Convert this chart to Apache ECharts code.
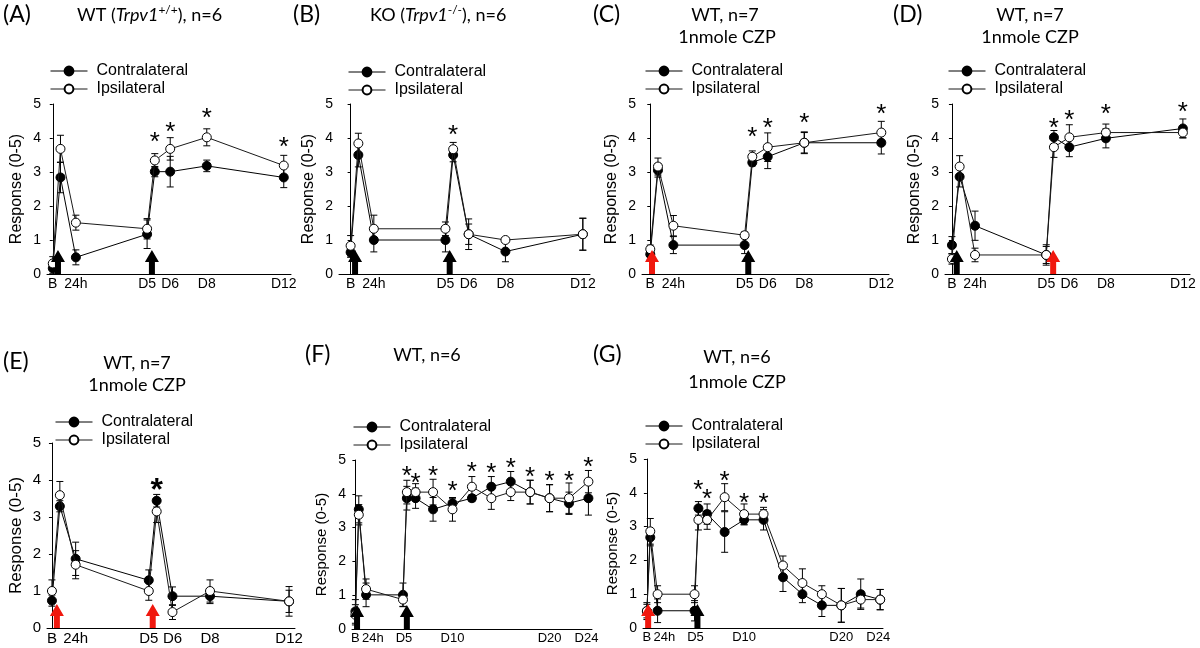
<!DOCTYPE html>
<html lang="en">
<head>
<meta charset="UTF-8">
<title>Response (0-5)</title>
<script src="https://cdn.jsdelivr.net/npm/echarts@6/dist/echarts.min.js"></script>
<style>
  html, body { margin: 0; padding: 0; background: #fff; }
  #chart { width: 1200px; height: 648px; }
</style>
</head>
<body>
<div id="chart"></div>
<script>
// measurement times (days) and x tick labels
const daysShort = [0, 0.4, 1.2, 4.9, 5.3, 6.1, 8, 12];
const daysLong = [0, 0.35, 1.1, 4.9, 5.3, 6.2, 8, 10, 12, 14, 16, 18, 20, 22, 24];
const tickShort = [0, 1.2, 4.9, 6.1, 8, 12];
const labelShort = ['B', '24h', 'D5', 'D6', 'D8', 'D12'];
const tickLong = [0, 1.8, 5, 10, 20, 23.8];
const labelLong = ['B', '24h', 'D5', 'D10', 'D20', 'D24'];

// (A) WT
const contraA = [0.17, 2.84, 0.49, 1.17, 3.01, 3.01, 3.18, 2.84];
const contraErrA = [0.15, 0.45, 0.22, 0.42, 0.15, 0.45, 0.17, 0.3];
const ipsiA = [0.31, 3.68, 1.51, 1.33, 3.34, 3.68, 4.02, 3.19];
const ipsiErrA = [0.2, 0.4, 0.22, 0.3, 0.2, 0.33, 0.25, 0.3];
const starsA = [[5.3, 4.04], [6.1, 4.33], [8, 4.73], [12, 3.89]];
const arrowsA = [0.27, 5.15];
const arrowKindA = ['cap', 'cap'];

// (B) KO
const contraB = [0.64, 3.5, 1.0, 1.0, 3.5, 1.17, 0.66, 1.17];
const contraErrB = [0.15, 0.35, 0.35, 0.35, 0.2, 0.3, 0.3, 0.47];
const ipsiB = [0.83, 3.84, 1.33, 1.33, 3.67, 1.17, 1.0, 1.17];
const ipsiErrB = [0.3, 0.3, 0.4, 0.2, 0.2, 0.45, 0.05, 0.47];
const starsB = [[5.3, 4.22]];
const arrowsB = [0.23, 5.12];
const arrowKindB = ['cap', 'cap'];

// (C) WT + CZP
const contraC = [0.58, 3.05, 0.85, 0.85, 3.28, 3.45, 3.86, 3.86];
const contraErrC = [0.15, 0.2, 0.25, 0.25, 0.1, 0.35, 0.3, 0.33];
const ipsiC = [0.73, 3.16, 1.42, 1.14, 3.45, 3.73, 3.86, 4.16];
const ipsiErrC = [0.12, 0.25, 0.3, 0.1, 0.17, 0.42, 0.32, 0.33];
const starsC = [[5.3, 4.16], [6.1, 4.45], [8, 4.58], [12, 4.85]];
const arrowsC = [0.09, 5.09];
const arrowKindC = ['czp', 'cap'];

// (D) WT + CZP
const contraD = [0.85, 2.86, 1.42, 0.56, 4.02, 3.73, 3.99, 4.28];
const contraErrD = [0.25, 0.3, 0.43, 0.3, 0.2, 0.28, 0.28, 0.28];
const ipsiD = [0.44, 3.16, 0.56, 0.56, 3.73, 4.02, 4.16, 4.16];
const ipsiErrD = [0.15, 0.32, 0.2, 0.25, 0.3, 0.37, 0.25, 0.15];
const starsD = [[5.3, 4.45], [6.1, 4.68], [8, 4.84], [12, 4.9]];
const arrowsD = [0.25, 5.26];
const arrowKindD = ['cap', 'czp'];

// (E) WT + CZP
const contraE = [0.74, 3.29, 1.87, 1.29, 3.44, 0.86, 0.86, 0.72];
const contraErrE = [0.15, 0.15, 0.45, 0.28, 0.17, 0.25, 0.2, 0.3];
const ipsiE = [1.0, 3.59, 1.71, 1.0, 3.15, 0.43, 1.0, 0.72];
const ipsiErrE = [0.3, 0.37, 0.38, 0.25, 0.3, 0.2, 0.3, 0.4];
const starsE = [[5.3, 3.9]];
const arrowsE = [0.25, 5.1];
const arrowKindE = ['czp', 'czp'];

// (F) WT, long follow-up
const contraF = [0.52, 3.54, 1.01, 1.01, 3.87, 3.87, 3.54, 3.72, 3.87, 4.21, 4.36, 4.05, 3.87, 3.72, 3.87];
const contraErrF = [0.35, 0.4, 0.35, 0.35, 0.35, 0.3, 0.35, 0.15, 0.1, 0.3, 0.3, 0.35, 0.4, 0.33, 0.5];
const ipsiF = [0.42, 3.38, 1.18, 0.87, 4.05, 4.05, 4.05, 3.54, 4.21, 3.87, 4.05, 4.05, 3.87, 3.87, 4.36];
const ipsiErrF = [0.3, 0.3, 0.3, 0.2, 0.35, 0.25, 0.38, 0.35, 0.3, 0.33, 0.25, 0.35, 0.4, 0.45, 0.33];
const starsF = [[5.3, 4.66], [6.2, 4.46], [8, 4.66], [10, 4.23], [12, 4.8], [14, 4.75], [16, 4.92], [18, 4.63], [20, 4.53], [22, 4.53], [24, 4.95]];
const arrowsF = [0.17, 5.3];
const arrowKindF = ['cap', 'cap'];

// (G) WT + CZP, long follow-up
const contraG = [0.5, 2.68, 0.51, 0.51, 3.54, 3.37, 2.84, 3.2, 3.2, 1.5, 1.0, 0.67, 0.67, 1.0, 0.84];
const contraErrG = [0.25, 0.25, 0.35, 0.3, 0.2, 0.3, 0.6, 0.15, 0.3, 0.42, 0.25, 0.33, 0.5, 0.45, 0.3];
const ipsiG = [0.5, 2.86, 1.0, 1.0, 3.2, 3.2, 3.87, 3.37, 3.37, 1.85, 1.33, 1.0, 0.67, 0.84, 0.84];
const ipsiErrG = [0.2, 0.38, 0.25, 0.25, 0.3, 0.28, 0.4, 0.3, 0.2, 0.28, 0.42, 0.25, 0.5, 0.25, 0.3];
const starsG = [[5.3, 4.22], [6.2, 3.95], [8, 4.49], [10, 3.85], [12, 3.85]];
const arrowsG = [0.13, 5.2];
const arrowKindG = ['czp', 'cap'];

const FONT = '"Liberation Sans", Arial, sans-serif';
const TFONT = 'Lato, "Open Sans", sans-serif';
const arrowColor = { cap: '#000000', czp: '#f0180e' };
const arrowPath = 'path://M7,0 L14,12 L10,12 L10,24 L4,24 L4,12 L0,12 Z';

const panels = [
  { grid: { left: 47, top: 104, width: 244, height: 170 }, min: -0.3, max: 12.375, days: daysShort, ticks: tickShort, labels: labelShort,
    contra: contraA, contraErr: contraErrA, ipsi: ipsiA, ipsiErr: ipsiErrA, stars: starsA, arrows: arrowsA, kinds: arrowKindA,
    legend: [50, 63], xfs: 14, yfs: 14, nfs: 16, gap: 22, star: 26 },
  { grid: { left: 339, top: 104, width: 251, height: 170 }, min: -0.6, max: 12.37, days: daysShort, ticks: tickShort, labels: labelShort,
    contra: contraB, contraErr: contraErrB, ipsi: ipsiB, ipsiErr: ipsiErrB, stars: starsB, arrows: arrowsB, kinds: arrowKindB,
    legend: [348, 64], xfs: 14, yfs: 14, nfs: 16, gap: 22, star: 26 },
  { grid: { left: 642, top: 104, width: 247, height: 170 }, min: -0.43, max: 12.4, days: daysShort, ticks: tickShort, labels: labelShort,
    contra: contraC, contraErr: contraErrC, ipsi: ipsiC, ipsiErr: ipsiErrC, stars: starsC, arrows: arrowsC, kinds: arrowKindC,
    legend: [645, 63], xfs: 14, yfs: 14, nfs: 16, gap: 22, star: 26 },
  { grid: { left: 945, top: 104, width: 245, height: 170 }, min: -0.36, max: 12.37, days: daysShort, ticks: tickShort, labels: labelShort,
    contra: contraD, contraErr: contraErrD, ipsi: ipsiD, ipsiErr: ipsiErrD, stars: starsD, arrows: arrowsD, kinds: arrowKindD,
    legend: [948, 63], xfs: 14, yfs: 14, nfs: 16, gap: 22, star: 26 },
  { grid: { left: 47, top: 443, width: 248, height: 185 }, min: -0.25, max: 12.3, days: daysShort, ticks: tickShort, labels: labelShort,
    contra: contraE, contraErr: contraErrE, ipsi: ipsiE, ipsiErr: ipsiErrE, stars: starsE, arrows: arrowsE, kinds: arrowKindE,
    legend: [55, 414], xfs: 15, yfs: 15, nfs: 17, gap: 22, star: 32 },
  { grid: { left: 352, top: 460, width: 240, height: 169 }, min: -0.35, max: 24.37, days: daysLong, ticks: tickLong, labels: labelLong,
    contra: contraF, contraErr: contraErrF, ipsi: ipsiF, ipsiErr: ipsiErrF, stars: starsF, arrows: arrowsF, kinds: arrowKindF,
    legend: [353, 419], xfs: 13, yfs: 14, nfs: 15, gap: 23, star: 26 },
  { grid: { left: 643, top: 459, width: 240, height: 169 }, min: -0.4, max: 24.29, days: daysLong, ticks: tickLong, labels: labelLong,
    contra: contraG, contraErr: contraErrG, ipsi: ipsiG, ipsiErr: ipsiErrG, stars: starsG, arrows: arrowsG, kinds: arrowKindG,
    legend: [645, 418], xfs: 13, yfs: 14, nfs: 15, gap: 23, star: 26 }
];

function renderErr(params, api) {
  const x = api.value(0);
  const lo = Math.max(0, api.value(1));
  const hi = api.value(2);
  const p1 = api.coord([x, lo]);
  const p2 = api.coord([x, hi]);
  const w = 3.5;
  const style = { stroke: '#000', lineWidth: 1 };
  return {
    type: 'group',
    children: [
      { type: 'line', shape: { x1: p1[0], y1: p1[1], x2: p2[0], y2: p2[1] }, style: style },
      { type: 'line', shape: { x1: p1[0] - w, y1: p1[1], x2: p1[0] + w, y2: p1[1] }, style: style },
      { type: 'line', shape: { x1: p2[0] - w, y1: p2[1], x2: p2[0] + w, y2: p2[1] }, style: style }
    ]
  };
}

const grids = [], xAxes = [], yAxes = [], legends = [], series = [];

panels.forEach((p, i) => {
  grids.push(Object.assign({ containLabel: false }, p.grid));
  xAxes.push({
    type: 'value', gridIndex: i, min: p.min, max: p.max,
    axisLine: { lineStyle: { color: '#000', width: 1 } },
    axisTick: { show: false },
    splitLine: { show: false },
    axisLabel: {
      customValues: p.ticks, margin: 3, color: '#000', fontFamily: FONT, fontSize: p.xfs,
      formatter: v => {
        const k = p.ticks.findIndex(t => Math.abs(t - v) < 1e-6);
        return k >= 0 ? p.labels[k] : '';
      }
    }
  });
  yAxes.push({
    type: 'value', gridIndex: i, min: 0, max: 5, interval: 1,
    name: 'Response (0-5)', nameLocation: 'middle', nameGap: p.gap,
    nameTextStyle: { color: '#000', fontFamily: FONT, fontSize: p.nfs },
    axisLine: { show: true, lineStyle: { color: '#000', width: 1 } },
    axisTick: { show: true, length: 3, lineStyle: { color: '#000' } },
    splitLine: { show: false },
    axisLabel: { color: '#000', fontFamily: FONT, fontSize: p.yfs, margin: 6 }
  });
  legends.push({
    data: ['Contralateral', 'Ipsilateral'], orient: 'vertical',
    left: p.legend[0], top: p.legend[1], padding: 0, itemGap: 2,
    itemWidth: 37, itemHeight: 11, selectedMode: false,
    lineStyle: { width: 1 },
    textStyle: { color: '#000', fontFamily: FONT, fontSize: 16, padding: [0, 0, 0, 4] }
  });

  const mk = arr => p.days.map((d, k) => [d, arr[k]]);
  const mkErr = (vals, errs) => p.days.map((d, k) => [d, vals[k] - errs[k], vals[k] + errs[k]]);

  series.push({
    type: 'custom', xAxisIndex: i, yAxisIndex: i, renderItem: renderErr,
    encode: { x: 0, y: [1, 2] }, data: mkErr(p.contra, p.contraErr), z: 1, silent: true
  });
  series.push({
    type: 'custom', xAxisIndex: i, yAxisIndex: i, renderItem: renderErr,
    encode: { x: 0, y: [1, 2] }, data: mkErr(p.ipsi, p.ipsiErr), z: 1, silent: true
  });
  series.push({
    name: 'Contralateral', type: 'line', xAxisIndex: i, yAxisIndex: i, data: mk(p.contra),
    symbol: 'circle', symbolSize: 9, showAllSymbol: true,
    lineStyle: { color: '#000', width: 1 },
    itemStyle: { color: '#000', borderColor: '#000', borderWidth: 1 }, z: 3
  });
  series.push({
    name: 'Ipsilateral', type: 'line', xAxisIndex: i, yAxisIndex: i, data: mk(p.ipsi),
    symbol: 'circle', symbolSize: 9, showAllSymbol: true,
    lineStyle: { color: '#1a1a1a', width: 1 },
    itemStyle: { color: '#fff', borderColor: '#000', borderWidth: 1 }, z: 4
  });
  series.push({
    type: 'scatter', xAxisIndex: i, yAxisIndex: i, data: p.stars, silent: true,
    symbol: 'circle', symbolSize: 1, itemStyle: { color: 'rgba(0,0,0,0)', opacity: 1 },
    label: { show: true, formatter: '*', position: 'inside', color: '#000', opacity: 1,
      fontFamily: FONT, fontSize: p.star, fontWeight: p.star > 28 ? 'bold' : 'normal', offset: [0, p.star * 0.22] },
    clip: false, z: 5
  });
  series.push({
    type: 'scatter', xAxisIndex: i, yAxisIndex: i, silent: true,
    data: p.arrows.map((x, k) => ({ value: [x, 0], itemStyle: { color: arrowColor[p.kinds[k]], opacity: 1 } })),
    symbol: arrowPath, symbolSize: [14, 24], symbolOffset: [0, '-50%'], symbolKeepAspect: false,
    itemStyle: { opacity: 1 },
    clip: false, z: 6
  });
});

function ttl(x, y, text, align, size) {
  return { type: 'text', x: x, y: y, silent: true,
    style: { text: text, fill: '#000', font: (size || 18) + 'px ' + TFONT, textAlign: align || 'left', textVerticalAlign: 'middle' } };
}
function richTtl(x, y, parts) {
  return { type: 'text', x: x, y: y, silent: true,
    style: {
      text: parts, textAlign: 'left', textVerticalAlign: 'middle', fill: '#000',
      rich: {
        n: { fontFamily: TFONT, fontSize: 18, lineHeight: 22, color: '#000' },
        i: { fontFamily: TFONT, fontSize: 18, fontStyle: 'italic', lineHeight: 22, color: '#000' },
        s: { fontFamily: TFONT, fontSize: 12, lineHeight: 22, verticalAlign: 'top', color: '#000' }
      }
    } };
}

const graphics = [
  ttl(3, 15, '(A)', 'left', 23),
  richTtl(77, 15, '{n|WT (}{i|Trpv1}{s|+/+}{n|), n=6}'),
  ttl(293, 15, '(B)', 'left', 23),
  richTtl(370, 15, '{n|KO (}{i|Trpv1}{s|-/-}{n|), n=6}'),
  ttl(593, 15, '(C)', 'left', 23),
  ttl(725, 15, 'WT, n=7', 'center'),
  ttl(727, 37, '1nmole CZP', 'center'),
  ttl(893, 15, '(D)', 'left', 23),
  ttl(1030, 15, 'WT, n=7', 'center'),
  ttl(1030, 37, '1nmole CZP', 'center'),
  ttl(3, 362, '(E)', 'left', 23),
  ttl(137, 363, 'WT, n=7', 'center'),
  ttl(137, 385, '1nmole CZP', 'center'),
  ttl(305, 355, '(F)', 'left', 23),
  ttl(427, 355, 'WT, n=6', 'center'),
  ttl(593, 355, '(G)', 'left', 23),
  ttl(737, 357, 'WT, n=6', 'center'),
  ttl(737, 382, '1nmole CZP', 'center')
];

const chart = echarts.init(document.getElementById('chart'), null, { renderer: 'canvas' });
chart.setOption({
  animation: false,
  backgroundColor: '#fff',
  grid: grids,
  xAxis: xAxes,
  yAxis: yAxes,
  legend: legends,
  graphic: graphics,
  series: series
});
</script>
</body>
</html>
